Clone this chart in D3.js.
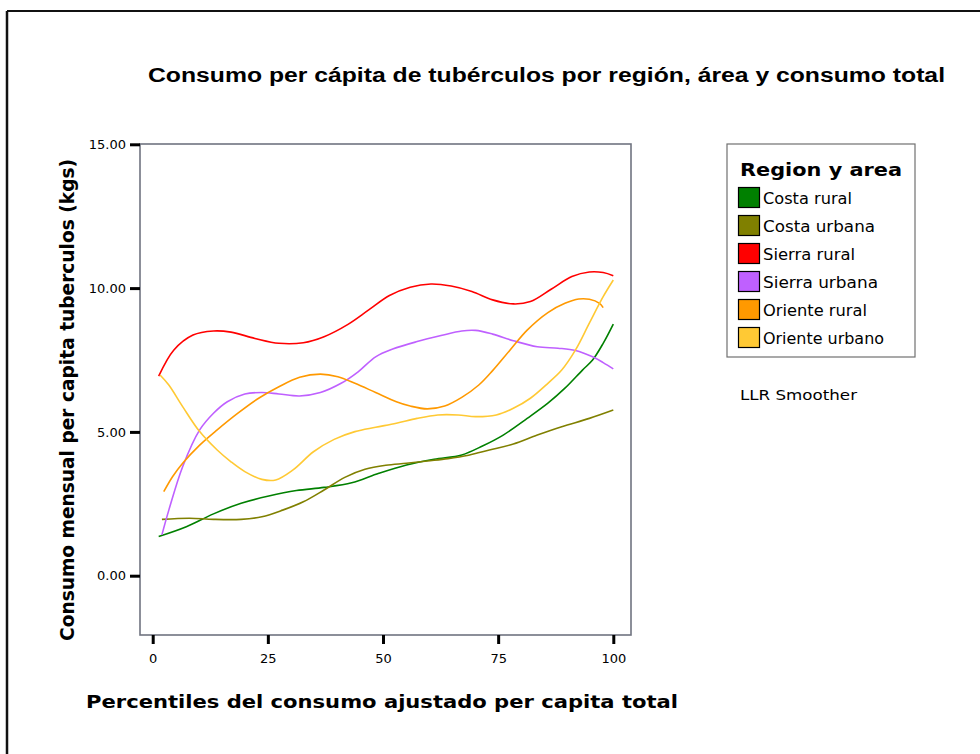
<!DOCTYPE html>
<html>
<head>
<meta charset="utf-8">
<script src="https://cdn.jsdelivr.net/npm/d3@7"></script>
<style>
  html, body { margin: 0; padding: 0; background: #fff; }
  svg { display: block; }
  text { font-family: "DejaVu Sans", "Liberation Sans", sans-serif; fill: #000; }
</style>
</head>
<body>
<svg id="chart" width="980" height="754"></svg>
<script>
// ---------- DATA ----------
const chartTitle = "Consumo per cápita de tubérculos por región, área y consumo total";
const xAxisTitle = "Percentiles del consumo ajustado per capita total";
const yAxisTitle = "Consumo mensual per capita tuberculos (kgs)";
const legendTitle = "Region y area";
const smootherNote = "LLR Smoother";

const categories = ["Costa rural", "Costa urbana", "Sierra rural", "Sierra urbana", "Oriente rural", "Oriente urbano"];
const seriesColors = ["#008000", "#808000", "#ff0000", "#bf60ff", "#ff9900", "#ffc934"];

const xTicks = [0, 25, 50, 75, 100];
const xTickLabels = ["0", "25", "50", "75", "100"];
const yTicks = [0, 5, 10, 15];
const yTickLabels = ["0.00", "5.00", "10.00", "15.00"];

// percentile (x) and smoothed consumption (y) for each series
const costaRuralX = [1.3, 7.3, 13.2, 19.2, 25.2, 31.2, 37.2, 43.2, 49.1, 55.1, 61.1, 67.1, 71.6, 76.1, 81.3, 85.8, 89.5, 93.3, 95.5, 97.8, 100];
const costaRuralY = [1.36, 1.70, 2.15, 2.52, 2.77, 2.96, 3.07, 3.23, 3.56, 3.85, 4.05, 4.20, 4.51, 4.89, 5.47, 6.00, 6.52, 7.15, 7.50, 8.08, 8.75];

const costaUrbanaX = [2, 8, 13.2, 19.2, 23.7, 28.2, 32.7, 37.2, 41.7, 46.1, 50.6, 55.1, 59.6, 64.1, 68.6, 73.1, 78.3, 83.5, 88.8, 94.8, 100];
const costaUrbanaY = [1.96, 2.00, 1.96, 1.96, 2.05, 2.28, 2.57, 2.98, 3.42, 3.70, 3.84, 3.91, 3.99, 4.07, 4.19, 4.37, 4.58, 4.89, 5.18, 5.47, 5.76];

const sierraRuralX = [1.3, 4.6, 8.75, 13.2, 17, 22.2, 27.4, 32.7, 37.2, 42.4, 46.9, 51.4, 55.9, 60.4, 64.8, 69.3, 73.8, 78.3, 82, 86.5, 91, 94.8, 97.8, 100];
const sierraRuralY = [6.94, 7.85, 8.37, 8.51, 8.47, 8.25, 8.08, 8.10, 8.31, 8.74, 9.24, 9.74, 10.03, 10.14, 10.07, 9.88, 9.59, 9.45, 9.53, 9.96, 10.40, 10.56, 10.54, 10.43];

const sierraUrbanaX = [2, 3.5, 6.5, 10.2, 13.2, 16.2, 20, 23.7, 27.4, 31.9, 36.4, 40.9, 44.6, 48.4, 52.1, 57.4, 62.6, 67.1, 70.1, 73.8, 78.3, 83.5, 88, 91.8, 95.5, 97.8, 100];
const sierraUrbanaY = [1.42, 2.28, 3.79, 5.07, 5.65, 6.05, 6.32, 6.37, 6.32, 6.25, 6.37, 6.69, 7.09, 7.61, 7.88, 8.14, 8.35, 8.51, 8.53, 8.40, 8.17, 7.96, 7.91, 7.83, 7.61, 7.41, 7.19];

const orienteRuralX = [2.4, 4.3, 6.5, 10.2, 14, 18.5, 23, 27.4, 31.9, 36.4, 40.2, 43.9, 48.4, 52.9, 55.9, 59.6, 63.4, 67.1, 70.8, 73.8, 77.6, 81.3, 85.8, 89.5, 92.5, 94.8, 97, 97.8];
const orienteRuralY = [2.92, 3.44, 3.91, 4.54, 5.07, 5.65, 6.17, 6.57, 6.90, 7.01, 6.92, 6.69, 6.37, 6.05, 5.90, 5.80, 5.90, 6.20, 6.63, 7.13, 7.85, 8.54, 9.15, 9.47, 9.62, 9.61, 9.47, 9.32];

const orienteUrbanoX = [1.6, 3.5, 6.5, 10.2, 14, 17, 20, 23.7, 26.7, 30.4, 34.9, 39.4, 43.9, 48.4, 52.9, 57.4, 61.9, 66.3, 70.1, 74.6, 78.3, 82, 85.8, 88.8, 91.8, 94.8, 97.8, 100];
const orienteUrbanoY = [6.98, 6.63, 5.88, 5.01, 4.37, 3.96, 3.62, 3.35, 3.33, 3.67, 4.31, 4.74, 5.01, 5.16, 5.30, 5.47, 5.59, 5.59, 5.53, 5.59, 5.82, 6.17, 6.69, 7.15, 7.85, 8.78, 9.70, 10.28];

const seriesX = [costaRuralX, costaUrbanaX, sierraRuralX, sierraUrbanaX, orienteRuralX, orienteUrbanoX];
const seriesY = [costaRuralY, costaUrbanaY, sierraRuralY, sierraUrbanaY, orienteRuralY, orienteUrbanoY];

// ---------- LAYOUT ----------
const svg = d3.select("#chart");
const frame = { left: 140, right: 631, top: 144, bottom: 635 };

const x = d3.scaleLinear().domain([0, 100]).range([152.7, 613.3]);
const y = d3.scaleLinear().domain([0, 15]).range([575.7, 144.3]);

function fit(sel, w) {
  sel.attr("textLength", w).attr("lengthAdjust", "spacingAndGlyphs");
  return sel;
}

// outer border (top and left visible)
svg.append("line").attr("x1", 7).attr("y1", 11).attr("x2", 980).attr("y2", 11)
  .attr("stroke", "#111").attr("stroke-width", 2);
svg.append("line").attr("x1", 7).attr("y1", 11).attr("x2", 7).attr("y2", 754)
  .attr("stroke", "#111").attr("stroke-width", 2.5);

// title
fit(svg.append("text").attr("x", 148).attr("y", 82)
  .style("font-family", "'Liberation Sans', Arial, sans-serif")
  .attr("font-size", 20).attr("font-weight", "bold").text(chartTitle), 797);

// plot frame
svg.append("rect")
  .attr("x", frame.left).attr("y", frame.top)
  .attr("width", frame.right - frame.left).attr("height", frame.bottom - frame.top)
  .attr("fill", "#fff").attr("stroke", "#707480").attr("stroke-width", 1.6);

// y axis ticks & labels
const yAxis = d3.axisLeft(y).tickValues(yTicks)
  .tickFormat((d, i) => yTickLabels[i]).tickSize(10).tickPadding(4);
const gy = svg.append("g").attr("transform", `translate(${frame.left},0)`).call(yAxis);
gy.select(".domain").remove();
gy.selectAll(".tick line").attr("stroke", "#000").attr("stroke-width", 3);
gy.selectAll(".tick text").attr("font-size", 13).style("font-family", "'DejaVu Sans', sans-serif").attr("fill", "#000");

// x axis ticks & labels
const xAxis = d3.axisBottom(x).tickValues(xTicks)
  .tickFormat((d, i) => xTickLabels[i]).tickSize(9).tickPadding(10);
const gx = svg.append("g").attr("transform", `translate(0,${frame.bottom})`).call(xAxis);
gx.select(".domain").remove();
gx.selectAll(".tick line").attr("stroke", "#000").attr("stroke-width", 3);
gx.selectAll(".tick text").attr("font-size", 13).style("font-family", "'DejaVu Sans', sans-serif").attr("fill", "#000");

// axis titles
fit(svg.append("text").attr("x", 86).attr("y", 708)
  .attr("font-size", 18.5).attr("font-weight", "bold").text(xAxisTitle), 592);
fit(svg.append("text")
  .attr("transform", "translate(74,400) rotate(-90)")
  .attr("text-anchor", "middle")
  .attr("font-size", 19).attr("font-weight", "bold").text(yAxisTitle), 482);

// lines
const line = d3.line().x(d => x(d[0])).y(d => y(d[1])).curve(d3.curveCatmullRom.alpha(0.5));
const plot = svg.append("g");
categories.forEach((c, i) => {
  const pts = seriesX[i].map((xv, j) => [xv, seriesY[i][j]]);
  plot.append("path").datum(pts)
    .attr("d", line)
    .attr("fill", "none")
    .attr("stroke", seriesColors[i])
    .attr("stroke-width", 1.6);
});

// legend
const lg = svg.append("g");
lg.append("rect").attr("x", 727).attr("y", 144).attr("width", 188).attr("height", 213)
  .attr("fill", "#fff").attr("stroke", "#707070").attr("stroke-width", 1.2);
fit(lg.append("text").attr("x", 740).attr("y", 176)
  .attr("font-size", 18).attr("font-weight", "bold").text(legendTitle), 162);
const labelWidths = [89, 112, 92, 115, 104, 121];
categories.forEach((c, i) => {
  const cy = 197.5 + i * 28;
  lg.append("rect").attr("x", 738.5).attr("y", cy - 10).attr("width", 21).attr("height", 20)
    .attr("fill", seriesColors[i]).attr("stroke", "#000").attr("stroke-width", 1.2);
  fit(lg.append("text").attr("x", 763).attr("y", cy + 6)
    .attr("font-size", 15).text(c), labelWidths[i]);
});
fit(svg.append("text").attr("x", 740).attr("y", 400)
  .attr("font-size", 14).text(smootherNote), 117);
</script>
</body>
</html>
